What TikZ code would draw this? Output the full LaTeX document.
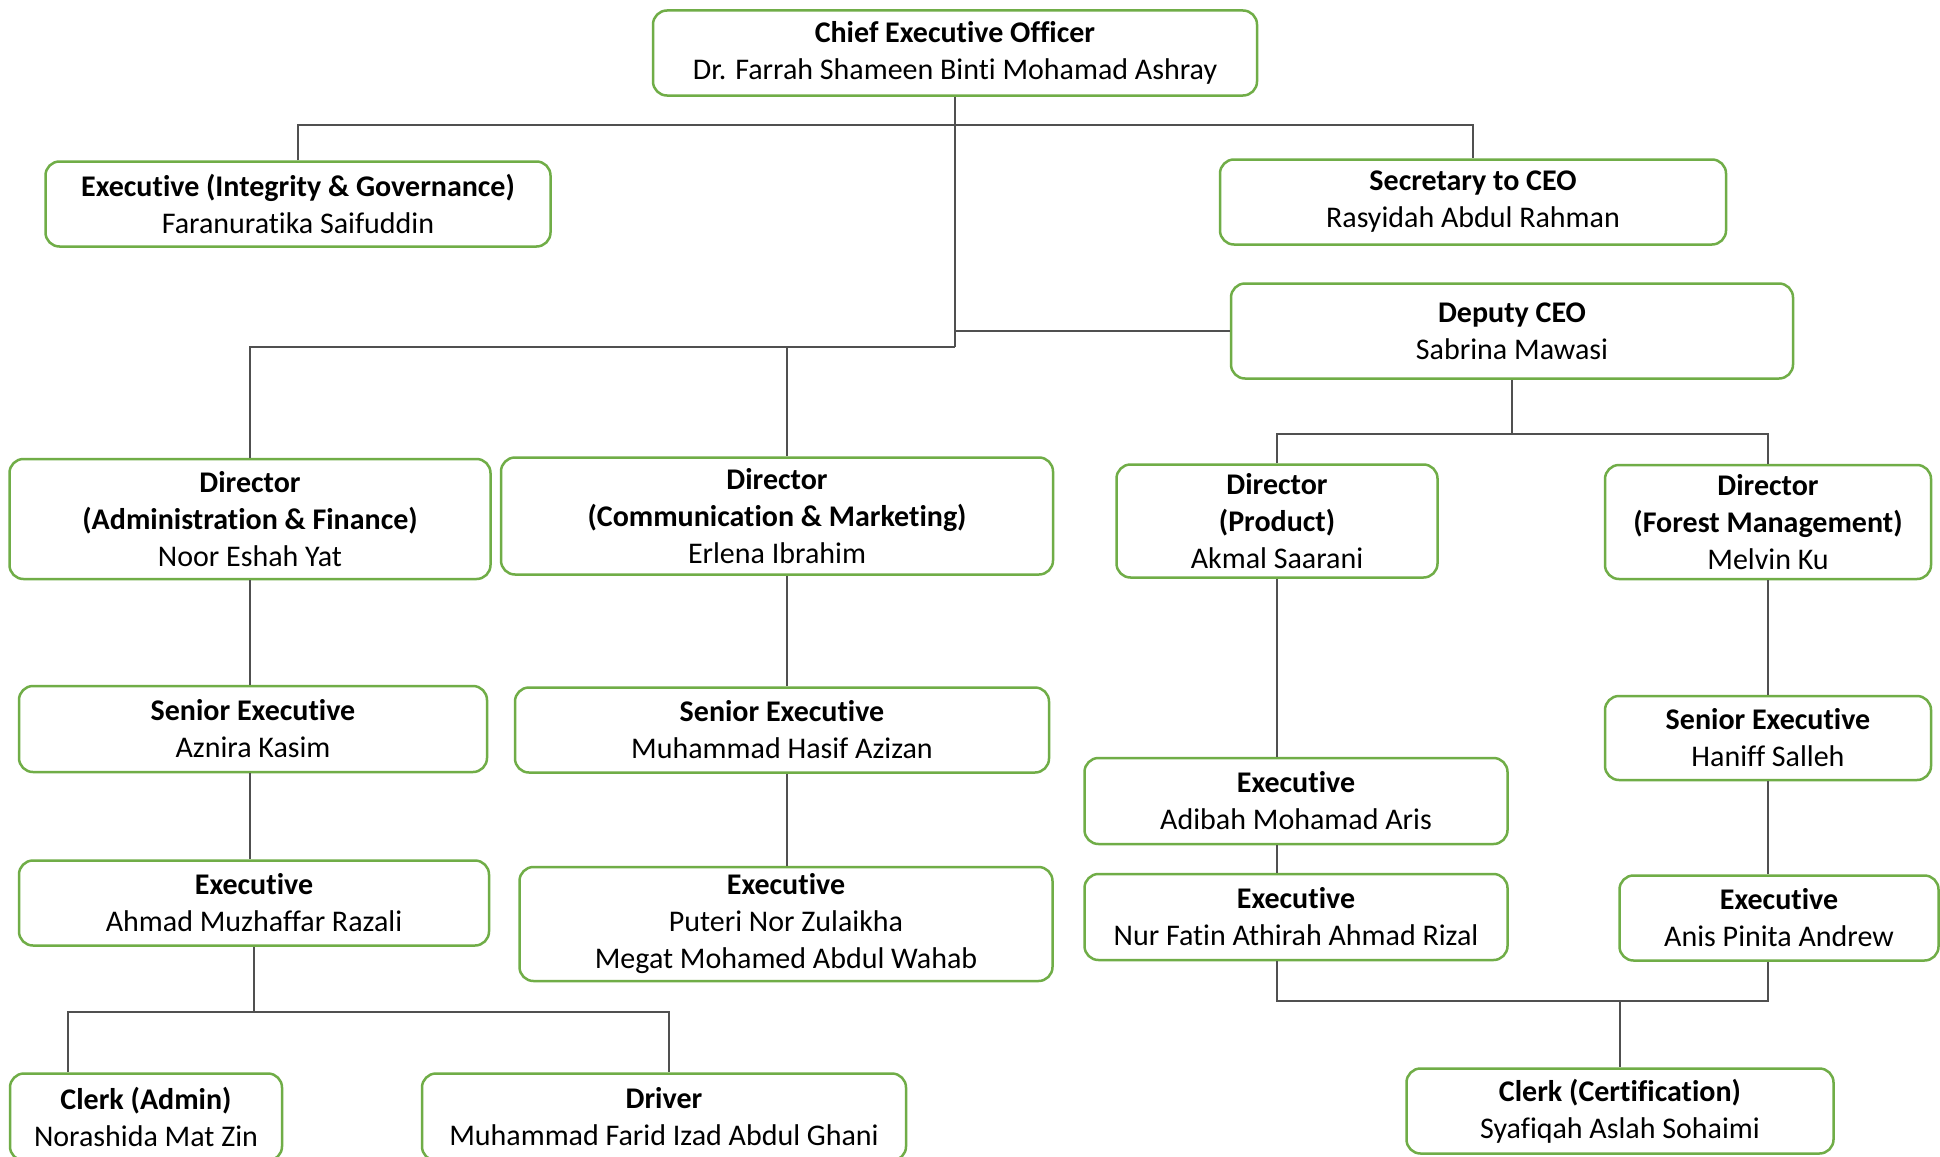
\documentclass[tikz,border=0pt]{standalone}
\usepackage{fontspec}
\setmainfont[Ligatures=NoCommon]{Carlito}
\usepackage{tikz}
\definecolor{boxgreen}{RGB}{112, 173, 71}
\definecolor{linegray}{RGB}{80, 80, 80}
\newcommand{\orgfont}{\fontsize{30}{37}\selectfont}
\tikzset{
  orgbox/.style={draw=boxgreen, line width=2.5pt, rounded corners=14pt, fill=white,
    align=center, inner sep=0pt, font=\orgfont},
  link/.style={draw=linegray, line width=1.4pt},
}

\begin{document}
\begin{tikzpicture}[x=1pt, y=-1pt]
  \useasboundingbox (0,0) rectangle (1940,1156);
  \clip (0,0) rectangle (1940,1156);
  \fill[white] (0,0) rectangle (1940,1156);

  % Top level
  \node[orgbox, minimum width=604pt, minimum height=85pt] (ceo) at (955,53)
    {\textbf{Chief Executive Officer}\\Dr. Farrah Shameen Binti Mohamad Ashray};
  \node[orgbox, minimum width=505pt, minimum height=85pt] (integ) at (298,204)
    {\textbf{Executive (Integrity \& Governance)}\\Faranuratika Saifuddin};
  \node[orgbox, minimum width=506pt, minimum height=85pt] (sec) at (1473,202)
    {\textbf{Secretary to CEO}\\Rasyidah Abdul Rahman};
  \node[orgbox, minimum width=562pt, minimum height=95pt] (dep) at (1512,331)
    {\textbf{Deputy CEO}\\Sabrina Mawasi};

  % Directors
  \node[orgbox, minimum width=481pt, minimum height=120pt] (diraf) at (250,519)
    {\textbf{Director}\\\textbf{(Administration \& Finance)}\\Noor Eshah Yat};
  \node[orgbox, minimum width=552pt, minimum height=117pt] (dircm) at (777,516)
    {\textbf{Director}\\\textbf{(Communication \& Marketing)}\\Erlena Ibrahim};
  \node[orgbox, minimum width=321pt, minimum height=113pt] (dirprod) at (1277,521)
    {\textbf{Director}\\\textbf{(Product)}\\Akmal Saarani};
  \node[orgbox, minimum width=326pt, minimum height=114pt] (dirfor) at (1768,522)
    {\textbf{Director}\\\textbf{(Forest Management)}\\Melvin Ku};

  % Senior executives and executives
  \node[orgbox, minimum width=468pt, minimum height=86pt] (srexaz) at (253,729)
    {\textbf{Senior Executive}\\Aznira Kasim};
  \node[orgbox, minimum width=534pt, minimum height=85pt] (srexha) at (782,730)
    {\textbf{Senior Executive}\\Muhammad Hasif Azizan};
  \node[orgbox, minimum width=326pt, minimum height=84pt] (srexhn) at (1768,738)
    {\textbf{Senior Executive}\\Haniff Salleh};
  \node[orgbox, minimum width=423pt, minimum height=86pt] (exadi) at (1296,801)
    {\textbf{Executive}\\Adibah Mohamad Aris};
  \node[orgbox, minimum width=470pt, minimum height=85pt] (exahm) at (254,903)
    {\textbf{Executive}\\Ahmad Muzhaffar Razali};
  \node[orgbox, minimum width=533pt, minimum height=114pt] (exput) at (786,924)
    {\textbf{Executive}\\Puteri Nor Zulaikha\\Megat Mohamed Abdul Wahab};
  \node[orgbox, minimum width=423pt, minimum height=86pt] (exnur) at (1296,917)
    {\textbf{Executive}\\Nur Fatin Athirah Ahmad Rizal};
  \node[orgbox, minimum width=319pt, minimum height=85pt] (exanis) at (1779,918)
    {\textbf{Executive}\\Anis Pinita Andrew};

  % Clerks and driver
  \node[orgbox, minimum width=272pt, minimum height=87pt] (clerkad) at (146,1117)
    {\textbf{Clerk (Admin)}\\Norashida Mat Zin};
  \node[orgbox, minimum width=484pt, minimum height=87pt] (driver) at (664,1117)
    {\textbf{Driver}\\Muhammad Farid Izad Abdul Ghani};
  \node[orgbox, minimum width=427pt, minimum height=85pt] (clerkcert) at (1620,1111)
    {\textbf{Clerk (Certification)}\\Syafiqah Aslah Sohaimi};

  % Junction points
  \coordinate (bartop) at (955,125);
  \coordinate (hubL) at (955,347);
  \coordinate (cmx) at (787,347);
  \coordinate (depbar) at (1512,434);
  \coordinate (admbar) at (254,1012);
  \coordinate (admL) at (68,1012);
  \coordinate (admR) at (669,1012);
  \coordinate (certbar) at (1620,1001);

  % Connectors
  \draw[link] (ceo.south) -- (hubL);
  \draw[link] (integ.north) |- (bartop) -| (sec.north);
  \draw[link] (dep.west) -- (dep.west -| ceo.south);
  \draw[link] (diraf.north) |- (hubL);
  \draw[link] (cmx) -- (cmx |- dircm.north);
  \draw[link] (dep.south) -- (depbar);
  \draw[link] (dirprod.north) |- (depbar) -| (dirfor.north);

  \draw[link] (diraf.south) -- (diraf.south |- srexaz.north);
  \draw[link] (srexaz.south -| diraf.south) -- (diraf.south |- exahm.north);
  \draw[link] (exahm.south) -- (admbar);
  \draw[link] (clerkad.north -| admL) -- (admL) -- (admR) -- (driver.north -| admR);

  \draw[link] (dircm.south -| cmx) -- (srexha.north -| cmx);
  \draw[link] (srexha.south -| cmx) -- (exput.north -| cmx);

  \draw[link] (dirprod.south) -- (dirprod.south |- exadi.north);
  \draw[link] (exadi.south -| dirprod.south) -- (exnur.north -| dirprod.south);
  \draw[link] (exnur.south -| dirprod.south) |- (certbar);
  \draw[link] (exanis.south -| dirfor.south) |- (certbar);
  \draw[link] (certbar) -- (clerkcert.north);

  \draw[link] (dirfor.south) -- (srexhn.north);
  \draw[link] (srexhn.south) -- (srexhn.south |- exanis.north);
\end{tikzpicture}
\end{document}
